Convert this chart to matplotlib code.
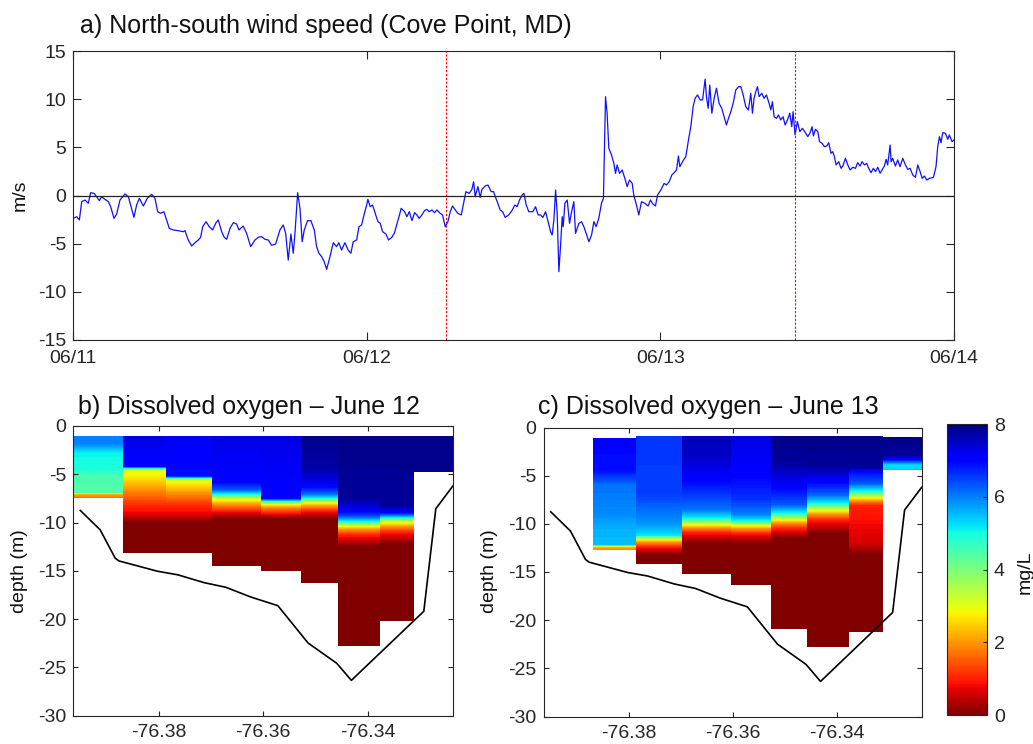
import numpy as np
import matplotlib
matplotlib.use('Agg')
import matplotlib.pyplot as plt
from matplotlib.cm import ScalarMappable
from matplotlib.colors import Normalize

plt.rcParams['font.family'] = ['Liberation Sans', 'DejaVu Sans']
plt.rcParams['axes.unicode_minus'] = False

# ---------------- data ----------------
# north-south wind (hours since 06/11 00:00, m/s)
wind_hours = [0.03, 0.3, 0.52, 0.71, 0.98, 1.25, 1.44, 1.72, 1.93, 2.15, 2.34, 2.61, 2.89, 3.08, 3.35, 3.57, 3.84,
              4.25, 4.52, 4.71, 4.98, 5.2, 5.42, 5.75, 6.07, 6.43, 6.7, 6.92, 7.16, 7.43, 7.65, 7.87, 8.2, 8.6, 9.01,
              9.15, 9.42, 9.7, 9.97, 10.24, 10.43, 10.6, 10.87, 11.14, 11.41, 11.68, 11.87, 12.15, 12.36,
              12.56, 12.83, 13.1, 13.37, 13.56, 13.91, 14.19, 14.52, 14.87, 15.14, 15.41, 15.69, 15.96, 16.23, 16.56,
              16.91, 17.18, 17.38, 17.59, 17.81, 18.0, 18.14, 18.36, 18.55, 18.73, 18.9, 19.17, 19.44, 19.72, 19.91,
              20.1, 20.32, 20.53, 20.73, 21.0, 21.27, 21.54, 21.73, 21.95, 22.22, 22.49, 22.71, 22.9, 23.18, 23.37,
              23.59, 23.8, 24.0, 24.1,
              24.29, 24.48, 24.7, 24.92, 25.11, 25.3, 25.57, 25.79, 26.06, 26.28, 26.47, 26.66, 26.82, 27.1, 27.29,
              27.48, 27.7, 27.92, 28.1, 28.29, 28.51, 28.73, 28.92, 29.11, 29.33, 29.55, 29.74, 30.01, 30.2, 30.42,
              30.64, 30.83, 31.02, 31.24, 31.45, 31.73, 31.92, 32.11, 32.38, 32.6, 32.74, 32.87, 33.09, 33.28, 33.42,
              33.69, 33.91, 34.18, 34.37, 34.51, 34.72, 34.91, 35.11, 35.32, 35.6, 35.87,
              36.11, 36.3, 36.49, 36.71, 36.85, 37.04, 37.25, 37.58, 37.8, 38.02, 38.21, 38.4, 38.62, 38.83, 39.03,
              39.16, 39.3, 39.44, 39.57, 39.71, 39.84, 39.98, 40.06, 40.2, 40.39, 40.58, 40.75, 40.93, 41.07, 41.34,
              41.56, 41.75, 41.94, 42.16, 42.38, 42.57, 42.75, 42.97, 43.19, 43.35, 43.52, 43.65, 43.79, 44.01, 44.2,
              44.34, 44.47, 44.67, 44.88, 45.1, 45.29, 45.48, 45.7, 45.83, 46.05, 46.24, 46.46, 46.73, 47.0, 47.19,
              47.39, 47.6,
              47.77, 48.04, 48.31, 48.5, 48.72, 48.94, 49.13, 49.32, 49.48, 49.59, 49.81, 50.08, 50.3, 50.49, 50.68,
              50.84, 51.04, 51.25, 51.45, 51.66, 51.77, 51.91, 52.04, 52.21, 52.4, 52.59, 52.8, 53.02, 53.21, 53.4,
              53.57, 53.76, 53.95, 54.17, 54.39, 54.58, 54.77, 54.98, 55.2, 55.39, 55.53, 55.66, 55.8, 55.94, 56.07,
              56.29, 56.48, 56.67, 56.89, 57.03, 57.16, 57.3, 57.49, 57.65, 57.84, 58.03, 58.2, 58.39, 58.58, 58.74,
              58.85, 59.01, 59.2, 59.4, 59.61,
              59.86, 60.05, 60.24, 60.4, 60.51, 60.68, 60.87, 61.01, 61.22, 61.41, 61.6, 61.76, 61.95, 62.09, 62.23,
              62.36, 62.58, 62.77, 62.91, 63.13, 63.32, 63.51, 63.73, 63.95, 64.13, 64.32, 64.49, 64.68, 64.87, 65.03,
              65.22, 65.41, 65.58, 65.77, 65.96, 66.12, 66.31, 66.45, 66.58, 66.78, 66.86, 66.99, 67.21, 67.4, 67.59,
              67.81, 68.03, 68.22, 68.41, 68.63, 68.85, 69.04, 69.23, 69.4, 69.58, 69.77, 69.99, 70.32, 70.53, 70.67,
              70.81, 70.94, 71.08, 71.3, 71.49, 71.62, 71.84, 72.0]
wind_ms = [-2.37, -2.2, -2.54, -0.64, -0.47, -0.81, 0.29, 0.22, -0.12, -0.54, -0.12, -0.4, -0.64, -1.16, -2.37, -1.92,
           -0.47, 0.16, -0.12, -0.99, -2.27, -0.99, -0.29, -1.09, -0.29, 0.12, -0.29, -1.68, -1.85, -1.68, -2.54, -3.41,
           -3.58, -3.65, -3.76, -3.65, -4.62, -5.24, -4.9, -4.62, -4.34, -3.24, -2.72, -3.24, -3.58, -2.84, -2.54, -3.76,
           -4.34,
           -4.55, -3.41, -2.82, -2.96, -3.58, -3.17, -3.93, -5.31, -4.62, -4.34, -4.27, -4.55, -4.62, -5.17, -5.04,
           -3.58, -3.06, -3.93, -6.7, -4.0, -6.0, -3.93, 0.29, -1.33, -4.8, -3.58, -2.61, -2.61, -3.58, -5.31, -6.0,
           -6.35, -6.87, -7.67, -6.35, -4.9, -5.31, -4.9, -5.66, -4.9, -5.66, -6.0, -4.8, -4.62, -3.24, -3.06, -1.92,
           -0.99, -0.4,
           -1.16, -0.99, -1.85, -2.72, -2.89, -3.76, -4.0, -4.62, -4.34, -3.86, -2.96, -2.13, -1.33, -1.68, -2.2, -1.68,
           -2.61, -1.78, -2.02, -2.37, -2.02, -1.57, -1.44, -1.68, -1.5, -1.78, -1.5, -1.85, -2.02, -3.24, -2.72, -1.68,
           -1.09, -1.5, -1.85, -2.02, -0.81, 0.4, 0.22, 0.64, 1.43, -0.12, 0.92, -0.19, 0.64, 0.99, 1.09, 0.4, 0.4,
           -0.12, -0.81, -1.5, -1.68, -2.27, -2.02, -1.57,
           -0.99, -1.16, -0.47, 0.05, 0.23, -0.99, -1.68, -1.68, -1.16, -2.02, -2.02, -2.27, -1.68, -2.72, -3.76, -4.1,
           -2.54, 0.57, -1.85, -7.91, -5.31, -2.2, -3.24, -0.81, -0.47, -2.89, -1.68, -0.64, -3.93, -2.89, -2.72, -3.24,
           -3.93, -4.8, -4.1, -2.72, -3.24, -2.37, -0.81, -0.29, 10.26, 8.54, 4.9, 4.21, 3.34, 2.3, 3.17, 2.3, 2.65,
           1.78, 0.92, 1.61, 1.26, 0.05, -0.99, -2.02, -0.64, -0.81, -1.09, -0.47, -0.88, -1.09,
           0.05, 0.57, 1.26, 1.09, 1.43, 2.13, 2.37, 2.65, 4.1, 2.99, 3.51, 4.03, 5.76, 7.14, 9.22, 10.09, 10.44, 9.92,
           9.92, 12.07, 10.26, 9.05, 11.47, 8.54, 10.09, 11.13, 9.57, 9.05, 8.18, 7.32, 8.01, 8.7, 9.57, 10.96, 11.3,
           11.3, 10.44, 9.22, 8.88, 10.61, 8.54, 10.09, 10.78, 11.3, 10.26, 10.61, 10.09, 10.44, 9.57, 8.88, 9.74, 8.18,
           8.01, 8.36, 7.84, 8.18, 7.32, 7.84, 8.54, 7.14, 8.7, 6.28, 7.67, 6.63, 6.97,
           6.52, 6.11, 6.52, 7.14, 6.18, 6.87, 6.63, 5.59, 5.42, 5.07, 5.14, 5.48, 4.38, 4.55, 4.03, 3.17, 3.51, 2.82,
           3.06, 3.86, 3.17, 2.65, 2.93, 2.82, 3.41, 3.06, 3.51, 3.17, 3.34, 2.82, 2.37, 2.82, 2.48, 2.93, 2.3, 2.65,
           3.06, 3.76, 3.17, 5.24, 3.51, 3.86, 3.06, 3.69, 2.99, 3.86, 3.17, 2.72, 2.82, 2.13, 1.89, 3.17, 2.48, 1.78,
           2.02, 1.61, 1.78, 1.89, 3.0, 5.07, 6.11, 5.48, 6.52, 6.46, 5.83, 6.28, 5.59, 5.76]
event_hours = [30.5, 59.0]                       # survey times (red dashed)
date_ticks = [0, 24, 48, 72]
date_labels = ['06/11', '06/12', '06/13', '06/14']

# cross-section: cast column edges (longitude)
cast_edges = [-76.3965, -76.3869, -76.3787, -76.3698, -76.3604, -76.3527, -76.3457, -76.3377, -76.3311, -76.3236]

# June 12: dissolved oxygen profiles (depth m, mg/L) for casts 0..8
jun12_depth = [
    [-1.0, -1.8, -2.8, -4.5, -5.2, -6.9, -7.1, -7.5],
    [-1.0, -4.2, -4.6, -5.5, -6.5, -8.0, -9.3, -10.0, -13.2],
    [-1.0, -5.2, -5.6, -6.5, -8.0, -9.3, -10.0, -13.2],
    [-1.0, -5.8, -6.6, -7.1, -7.5, -8.1, -8.8, -9.6, -14.5],
    [-1.0, -7.5, -7.8, -8.1, -8.5, -9.0, -9.6, -15.05],
    [-1.0, -4.5, -6.3, -7.0, -7.5, -7.9, -8.3, -8.8, -9.6, -16.3],
    [-1.0, -7.5, -8.8, -9.4, -9.9, -10.3, -10.7, -11.3, -12.5, -22.8],
    [-1.0, -8.2, -9.0, -9.4, -9.9, -10.4, -11.0, -12.2, -20.2],
    [-1.0, -4.74],
]
jun12_do = [
    [6.0, 6.0, 5.1, 4.9, 4.5, 4.4, 2.2, 1.6],
    [7.3, 7.0, 3.0, 2.6, 2.0, 1.2, 0.6, 0.0, 0.0],
    [7.2, 6.9, 3.0, 2.3, 1.2, 0.6, 0.0, 0.0],
    [7.3, 7.0, 6.3, 5.0, 3.2, 2.0, 1.0, 0.0, 0.0],
    [7.3, 7.0, 5.0, 3.0, 1.8, 1.0, 0.0, 0.0],
    [7.9, 7.7, 7.0, 6.2, 5.0, 3.0, 2.0, 1.0, 0.0, 0.0],
    [7.9, 7.8, 7.1, 6.3, 5.0, 3.2, 2.0, 1.0, 0.0, 0.0],
    [7.9, 7.8, 7.0, 5.5, 3.2, 2.0, 1.0, 0.0, 0.0],
    [7.9, 7.9],
]
jun12_casts = [0, 1, 2, 3, 4, 5, 6, 7, 8]

# June 13: dissolved oxygen profiles for casts 1..8
jun13_depth = [
    [-1.05, -4.5, -6.0, -9.0, -10.5, -12.2, -12.4, -12.7],
    [-0.87, -7.0, -10.0, -11.2, -11.6, -11.9, -12.4, -13.2, -14.2],
    [-0.87, -3.0, -5.5, -8.5, -9.4, -10.0, -10.4, -10.9, -12.0, -15.2],
    [-0.9, -5.0, -7.5, -9.0, -9.7, -10.1, -10.5, -11.0, -12.0, -16.4],
    [-0.9, -3.5, -6.0, -8.0, -8.9, -9.5, -9.9, -10.5, -11.5, -20.95],
    [-0.9, -4.0, -5.5, -7.0, -7.9, -8.5, -9.0, -9.6, -11.0, -22.8],
    [-0.9, -4.2, -4.5, -5.8, -6.6, -7.2, -7.6, -8.1, -12.0, -13.2, -21.2],
    [-0.97, -2.9, -3.4, -3.9, -4.4],
]
jun13_do = [
    [7.0, 6.9, 6.1, 5.9, 5.6, 5.5, 2.3, 1.8],
    [6.6, 6.5, 5.8, 5.2, 3.0, 2.0, 1.0, 0.0, 0.0],
    [7.6, 7.5, 7.0, 6.1, 5.1, 3.2, 2.0, 1.0, 0.0, 0.0],
    [7.3, 7.0, 6.6, 6.0, 5.0, 3.2, 2.0, 1.0, 0.0, 0.0],
    [7.9, 7.8, 7.1, 6.3, 5.0, 3.2, 2.0, 1.0, 0.0, 0.0],
    [7.9, 7.8, 7.1, 6.2, 5.0, 3.2, 2.0, 1.0, 0.0, 0.0],
    [7.9, 7.8, 7.0, 6.3, 5.0, 3.2, 2.0, 1.0, 0.6, 0.0, 0.0],
    [7.9, 7.8, 6.8, 5.2, 5.4],
]
jun13_casts = [1, 2, 3, 4, 5, 6, 7, 8]

# bottom profile
bathy_lon = [-76.3951, -76.3913, -76.3884, -76.3877, -76.3803, -76.3764, -76.3713, -76.3672, -76.3624,
             -76.3572, -76.3514, -76.3459, -76.3431, -76.3292, -76.3269, -76.3236]
bathy_depth = [-8.75, -10.75, -13.7, -13.98, -15.05, -15.42, -16.24, -16.71, -17.72,
               -18.62, -22.49, -24.59, -26.36, -19.2, -8.57, -6.2]

lon_ticks = [-76.38, -76.36, -76.34]
depth_ticks = [0, -5, -10, -15, -20, -25, -30]
do_ticks = [0, 2, 4, 6, 8]

# ---------------- figure ----------------
W, H = 1033, 744
fig = plt.figure(figsize=(W / 100, H / 100), dpi=100)
SPC = '#262626'


def px_axes(l, t, r, b):
    return fig.add_axes([l / W, 1 - b / H, (r - l) / W, (b - t) / H])


def style(ax, ticklen, xpad=5):
    ax.tick_params(direction='in', top=True, right=True, length=ticklen, width=0.8,
                   labelsize=14, pad=5, colors=SPC)
    ax.tick_params(axis='x', pad=xpad)
    for s in ax.spines.values():
        s.set_color(SPC)
        s.set_linewidth(0.8)


# a) wind
ax = px_axes(73, 51, 954, 340)
ax.plot(wind_hours, wind_ms, color='#1010ff', lw=0.9)
ax.axhline(0, color='#222222', lw=0.9)
for eh in event_hours:
    ax.axvline(eh, color='red', lw=0.8, ls=(0, (2, 1.5)))
ax.set_xlim(0, 72)
ax.set_ylim(-15, 15)
ax.set_yticks(range(-15, 16, 5))
ax.set_xticks(date_ticks)
ax.set_xticklabels(date_labels)
style(ax, 5.5, xpad=7)
fig.text(80 / W, 1 - 33 / H, 'a) North-south wind speed (Cove Point, MD)', fontsize=18, va='baseline', color='#111111')
fig.text(20 / W, 1 - 195 / H, 'm/s', rotation=90, ha='center', va='center', fontsize=14, color='#111111')

levels = np.linspace(0, 8, 161)
cmap = 'jet_r'


def section(ax, casts, depths, dos):
    for ci, d, v in zip(casts, depths, dos):
        l, r = cast_edges[ci], cast_edges[ci + 1]
        d = np.asarray(d, float)
        v = np.asarray(v, float)
        X = np.column_stack([np.full_like(d, l), np.full_like(d, r)])
        Y = np.column_stack([d, d])
        Z = np.column_stack([v, v])
        ax.contourf(X, Y, Z, levels=levels, cmap=cmap, vmin=0, vmax=8, extend='both')
    ax.plot(bathy_lon, bathy_depth, color='k', lw=1.2)
    ax.set_xlim(cast_edges[0], cast_edges[-1])
    ax.set_ylim(-30, 0)
    ax.set_xticks(lon_ticks)
    ax.set_xticklabels([f'{t:.2f}' for t in lon_ticks])
    ax.set_yticks(depth_ticks)
    ax.set_yticklabels([str(t) for t in depth_ticks])
    style(ax, 3.5, xpad=6)


axb = px_axes(73, 426, 453, 715.5)
section(axb, jun12_casts, jun12_depth, jun12_do)
fig.text(78 / W, 1 - 414 / H, 'b) Dissolved oxygen \u2013 June 12', fontsize=18, va='baseline', color='#111111')
fig.text(20 / W, 1 - 571 / H, 'depth (m)', rotation=90, ha='center', va='center', fontsize=14, color='#111111')

axc = px_axes(543.5, 427.5, 921.7, 716.5)
section(axc, jun13_casts, jun13_depth, jun13_do)
fig.text(538 / W, 1 - 414 / H, 'c) Dissolved oxygen \u2013 June 13', fontsize=18, va='baseline', color='#111111')
fig.text(489 / W, 1 - 571 / H, 'depth (m)', rotation=90, ha='center', va='center', fontsize=14, color='#111111')

cax = px_axes(947, 424, 987, 715)
cb = fig.colorbar(ScalarMappable(norm=Normalize(0, 8), cmap=cmap), cax=cax, ticks=do_ticks)
cb.ax.tick_params(direction='in', length=3, width=0.8, labelsize=14, pad=5, colors=SPC)
cb.outline.set_color(SPC)
cb.outline.set_linewidth(0.8)
fig.text(1025 / W, 1 - 572 / H, 'mg/L', rotation=90, ha='center', va='center', fontsize=14, color='#111111')

fig.savefig('out.png', dpi=100, facecolor='white')
